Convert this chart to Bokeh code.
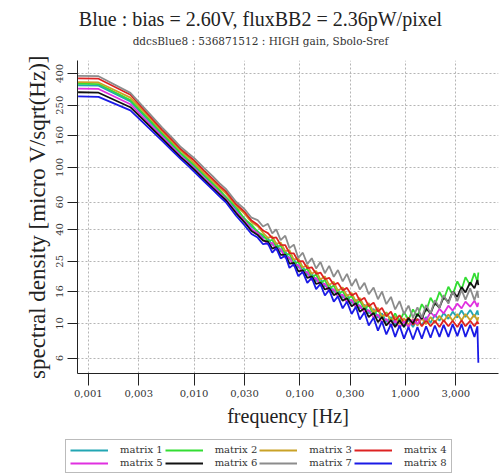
from bokeh.plotting import figure
from bokeh.layouts import column
from bokeh.models import Range1d, FixedTicker, Legend, LegendItem, Label
from bokeh.embed import file_html
from bokeh.resources import INLINE

# frequency grid [Hz]
freq = [0.0008, 0.00125, 0.0025, 0.0037, 0.005, 0.0062, 0.0075, 0.0087, 0.01, 0.0125,
        0.015, 0.0175, 0.02, 0.025, 0.03, 0.035, 0.04, 0.045,
        0.05, 0.055, 0.06, 0.066, 0.073, 0.08, 0.088, 0.097, 0.107, 0.118,
        0.13, 0.143, 0.157, 0.173, 0.19, 0.21, 0.23, 0.255, 0.28, 0.31,
        0.34, 0.37, 0.41, 0.45, 0.5, 0.55, 0.6, 0.66, 0.73, 0.8,
        0.88, 0.97, 1.07, 1.18, 1.3, 1.43, 1.57, 1.73, 1.9, 2.1,
        2.3, 2.55, 2.8, 3.1, 3.4, 3.7, 4.1, 4.5, 4.8, 4.9]

matrix_1 = [336, 334, 265, 200, 162, 139, 122, 111, 102, 88, 78, 70.5, 64.6, 54.0, 47.1, 41.6, 38.9, 35.7,
            35.0, 31.9, 32.5, 29.1, 29.0, 25.7, 25.9, 22.8, 23.1, 20.5,
            20.9, 18.7, 19.3, 17.3, 17.8, 15.9, 16.5, 14.6, 15.3, 13.5,
            14.2, 12.5, 13.2, 11.6, 12.4, 10.9, 11.6, 10.2, 11.0, 9.8,
            10.7, 9.5, 10.6, 9.5, 10.7, 9.7, 11.0, 10.1, 11.4, 10.4,
            11.7, 10.7, 11.9, 10.9, 12.1, 11.0, 12.2, 11.0, 12.1, 11.3]
matrix_2 = [344, 342, 270, 205, 165, 142, 124, 113, 104, 89.5, 79, 71.5, 64.4, 56.0, 46.5, 43.0, 38.6, 36.9,
            33.6, 34.4, 30.9, 31.6, 27.6, 27.9, 24.3, 24.8, 21.7, 22.4,
            19.7, 20.6, 18.2, 19.0, 16.7, 17.5, 15.5, 16.1, 14.3, 15.0,
            13.2, 14.0, 12.3, 13.1, 11.4, 12.3, 10.8, 11.8, 10.4, 11.6,
            10.3, 11.8, 10.6, 12.3, 11.1, 13.3, 12.0, 14.6, 13.1, 15.9,
            14.2, 17.2, 15.3, 18.6, 16.5, 19.8, 17.6, 21.0, 18.5, 21.2]
matrix_3 = [352, 350, 280, 212, 170, 146, 128, 117, 107, 92, 82, 74, 68.1, 57.0, 50.6, 44.5, 42.0, 38.1,
            35.3, 36.1, 32.4, 33.0, 29.1, 29.5, 25.6, 26.1, 22.9, 23.6,
            20.8, 21.7, 19.1, 20.0, 17.6, 18.5, 16.2, 17.0, 15.0, 15.7,
            13.8, 14.6, 12.8, 13.5, 11.8, 12.6, 11.0, 11.7, 10.4, 11.1,
            9.9, 10.8, 9.8, 10.7, 9.7, 10.8, 9.9, 11.0, 10.1, 11.2,
            10.3, 11.4, 10.4, 11.5, 10.5, 11.5, 10.5, 11.4, 10.4, 11.0]
matrix_4 = [372, 370, 292, 218, 174, 150, 131, 120, 111, 95, 84.5, 76, 70.2, 58.1, 52.0, 45.6, 42.9, 39.4,
            37.9, 35.2, 35.6, 31.9, 31.8, 28.2, 28.1, 25.0, 25.1, 22.6,
            22.9, 20.8, 21.2, 19.2, 19.6, 17.7, 18.2, 16.3, 16.9, 15.1,
            15.7, 14.0, 14.6, 12.9, 13.6, 11.9, 12.6, 11.1, 11.9, 10.4,
            11.3, 10.1, 10.9, 9.8, 10.7, 9.6, 10.5, 9.6, 10.4, 9.5,
            10.5, 9.6, 10.4, 9.5, 10.5, 9.6, 10.4, 9.6, 10.3, 9.9]
matrix_5 = [320, 318, 254, 193, 157, 135, 118, 108, 99, 85, 76, 68.5, 62.6, 52.0, 45.5, 40.1, 37.9, 34.7,
            32.0, 32.9, 29.5, 30.0, 26.3, 26.5, 23.3, 23.7, 20.9, 21.4,
            18.9, 19.6, 17.4, 18.0, 16.0, 16.6, 14.8, 15.3, 13.6, 14.2,
            12.7, 13.1, 11.7, 12.2, 10.9, 11.4, 10.1, 10.7, 9.6, 10.4,
            9.4, 10.3, 9.5, 10.6, 9.9, 11.1, 10.5, 11.8, 11.0, 12.4,
            11.6, 13.0, 12.1, 13.4, 12.5, 13.8, 12.8, 14.0, 12.8, 13.6]
matrix_6 = [303, 301, 243, 187, 153, 132, 116, 106, 97, 83.5, 74, 67, 61.6, 51.0, 44.5, 39.1, 36.9, 33.9,
            33.4, 30.2, 30.9, 27.5, 27.6, 24.2, 24.4, 21.6, 21.9, 19.6,
            20.0, 17.9, 18.3, 16.5, 16.9, 15.2, 15.7, 14.0, 14.5, 12.9,
            13.5, 11.9, 12.5, 11.0, 11.7, 10.2, 11.0, 9.7, 10.5, 9.5,
            10.5, 9.5, 10.8, 10.0, 11.5, 10.7, 12.5, 11.6, 13.6, 12.6,
            14.8, 13.7, 16.0, 14.8, 17.1, 15.8, 18.3, 16.8, 19.0, 17.6]
matrix_7 = [386, 384, 300, 225, 180, 155, 135, 124, 115, 99, 88, 79, 72.8, 60.2, 54.1, 47.6, 45.9, 41.8,
            43.5, 37.8, 40.1, 34.2, 36.5, 30.4, 32.0, 26.3, 28.4, 24.0,
            26.2, 22.5, 24.8, 21.0, 23.4, 19.9, 22.0, 18.6, 20.8, 17.4,
            19.3, 16.5, 18.2, 15.4, 17.0, 14.3, 16.0, 13.3, 14.8, 12.3,
            13.9, 11.5, 13.0, 10.9, 12.7, 10.9, 13.1, 11.6, 14.1, 12.6,
            15.2, 13.4, 16.0, 13.9, 16.4, 14.2, 16.8, 14.1, 16.2, 14.6]
matrix_8 = [285, 283, 232, 180, 148, 128, 113, 103, 94, 81, 72, 65, 59.8, 49.0, 42.6, 37.4, 35.5, 32.2,
            32.6, 28.4, 30.4, 26.1, 27.2, 22.7, 23.9, 20.1, 21.4, 18.2,
            19.6, 16.6, 17.9, 15.1, 16.4, 13.8, 14.9, 12.5, 13.8, 11.5,
            12.8, 10.6, 11.8, 9.7, 10.9, 9.0, 10.3, 8.5, 9.9, 8.2,
            9.7, 8.0, 9.5, 7.9, 9.5, 8.0, 9.6, 8.1, 9.7, 8.2,
            9.8, 8.2, 9.9, 8.3, 9.9, 8.2, 9.8, 8.2, 9.6, 5.6]

series_names = ["matrix 1", "matrix 2", "matrix 3", "matrix 4",
                "matrix 5", "matrix 6", "matrix 7", "matrix 8"]
series_values = [matrix_1, matrix_2, matrix_3, matrix_4,
                 matrix_5, matrix_6, matrix_7, matrix_8]
series_colors = ["#22a6b3", "#33dd33", "#c9a227", "#dd2222",
                 "#e030e0", "#111111", "#8c8c8c", "#1a1ae6"]

x_ticks = [0.001, 0.003, 0.01, 0.03, 0.1, 0.3, 1.0, 3.0]
x_tick_labels = ["0,001", "0,003", "0,010", "0,030", "0,100", "0,300", "1,000", "3,000"]
y_ticks = [6, 10, 16, 25, 40, 60, 100, 160, 250, 400]

title_text = "Blue : bias = 2.60V, fluxBB2 = 2.36pW/pixel"
subtitle_text = "ddcsBlue8 : 536871512 : HIGH gain, Sbolo-Sref"

for v in series_values:
    assert len(v) == len(freq), len(v)

SERIF = "Liberation Serif"
SERIF2 = "DejaVu Serif"
LEFT = 77   # left border shared by the aligned figures


def blank(height, left):
    f = figure(width=500, height=height, output_backend="svg", toolbar_location=None,
               x_range=Range1d(0, 1), y_range=Range1d(0, 1),
               x_axis_location=None, y_axis_location=None,
               min_border_left=left, min_border_right=2, min_border_top=0, min_border_bottom=0)
    f.outline_line_color = None
    f.xgrid.visible = False
    f.ygrid.visible = False
    return f


# header with the titles (x in frame pixels)
head = blank(56, LEFT)
head.add_layout(Label(x=260 - LEFT, y=38, x_units="screen", y_units="screen", text=title_text,
                      text_align="center", text_baseline="middle", text_font=SERIF,
                      text_font_size="20px", text_color="#222222"))
head.add_layout(Label(x=260 - LEFT, y=16, x_units="screen", y_units="screen", text=subtitle_text,
                      text_align="center", text_baseline="middle", text_font=SERIF2,
                      text_font_size="10.5px", text_color="#333333"))

# main plot
p = figure(width=500, height=374, x_axis_type="log", y_axis_type="log",
           x_range=Range1d(0.00079, 7.6), y_range=Range1d(4.78, 484),
           output_backend="svg", toolbar_location=None, title=None,
           min_border_left=LEFT, min_border_right=2, min_border_top=4, min_border_bottom=57)
p.outline_line_color = None

for vals, col in zip(series_values, series_colors):
    p.line(freq, vals, line_color=col, line_width=1.8)

p.xaxis.ticker = FixedTicker(ticks=x_ticks)
p.xaxis.major_label_overrides = {t: l for t, l in zip(x_ticks, x_tick_labels)}
p.yaxis.ticker = FixedTicker(ticks=y_ticks)
p.yaxis.major_label_overrides = {t: str(t) for t in y_ticks}
p.yaxis.major_label_orientation = "vertical"
for ax in (p.xaxis[0], p.yaxis[0]):
    ax.axis_line_color = "#222222"
    ax.major_tick_line_color = "#222222"
    ax.minor_tick_line_color = None
    ax.major_tick_in = 0
    ax.major_label_text_font = SERIF2
    ax.major_label_text_font_size = "10px"
    ax.major_label_text_color = "#333333"
    ax.axis_label_text_font = SERIF
    ax.axis_label_text_font_style = "normal"
    ax.axis_label_text_color = "#222222"
p.xaxis.major_tick_out = 12
p.yaxis.major_tick_out = 10
p.xaxis.major_label_standoff = 4
p.yaxis.major_label_standoff = 4
p.xaxis.axis_label = "frequency [Hz]"
p.yaxis.axis_label = "spectral density [micro V/sqrt(Hz)]"
p.xaxis.axis_label_text_font_size = "20px"
p.yaxis.axis_label_text_font_size = "23px"
p.xaxis.axis_label_standoff = 5
p.yaxis.axis_label_standoff = 4

p.xgrid.grid_line_color = "#b5b5b5"
p.ygrid.grid_line_color = "#b5b5b5"
p.xgrid.grid_line_dash = "2 2"
p.ygrid.grid_line_dash = "2 2"

# legend panel below the plot (proxy renderers hold no visible data)
lg = blank(44, 0)
nan = float("nan")
legend_renderers = [lg.line([nan], [nan], line_color=col, line_width=2) for col in series_colors]
legend = Legend(items=[LegendItem(label=n, renderers=[r]) for n, r in zip(series_names, legend_renderers)],
                orientation="horizontal", ncols=4, location=(65, 1),
                glyph_width=38, glyph_height=10, label_height=10, label_standoff=12,
                spacing=2, padding=4, margin=0,
                label_text_font=SERIF2, label_text_font_size="10px", label_text_color="#333333",
                border_line_color="#777777", border_line_width=1, background_fill_alpha=1)
lg.add_layout(legend, "center")

open("out.html", "w").write(file_html(column(head, p, column(lg, spacing=0), spacing=0), INLINE))
